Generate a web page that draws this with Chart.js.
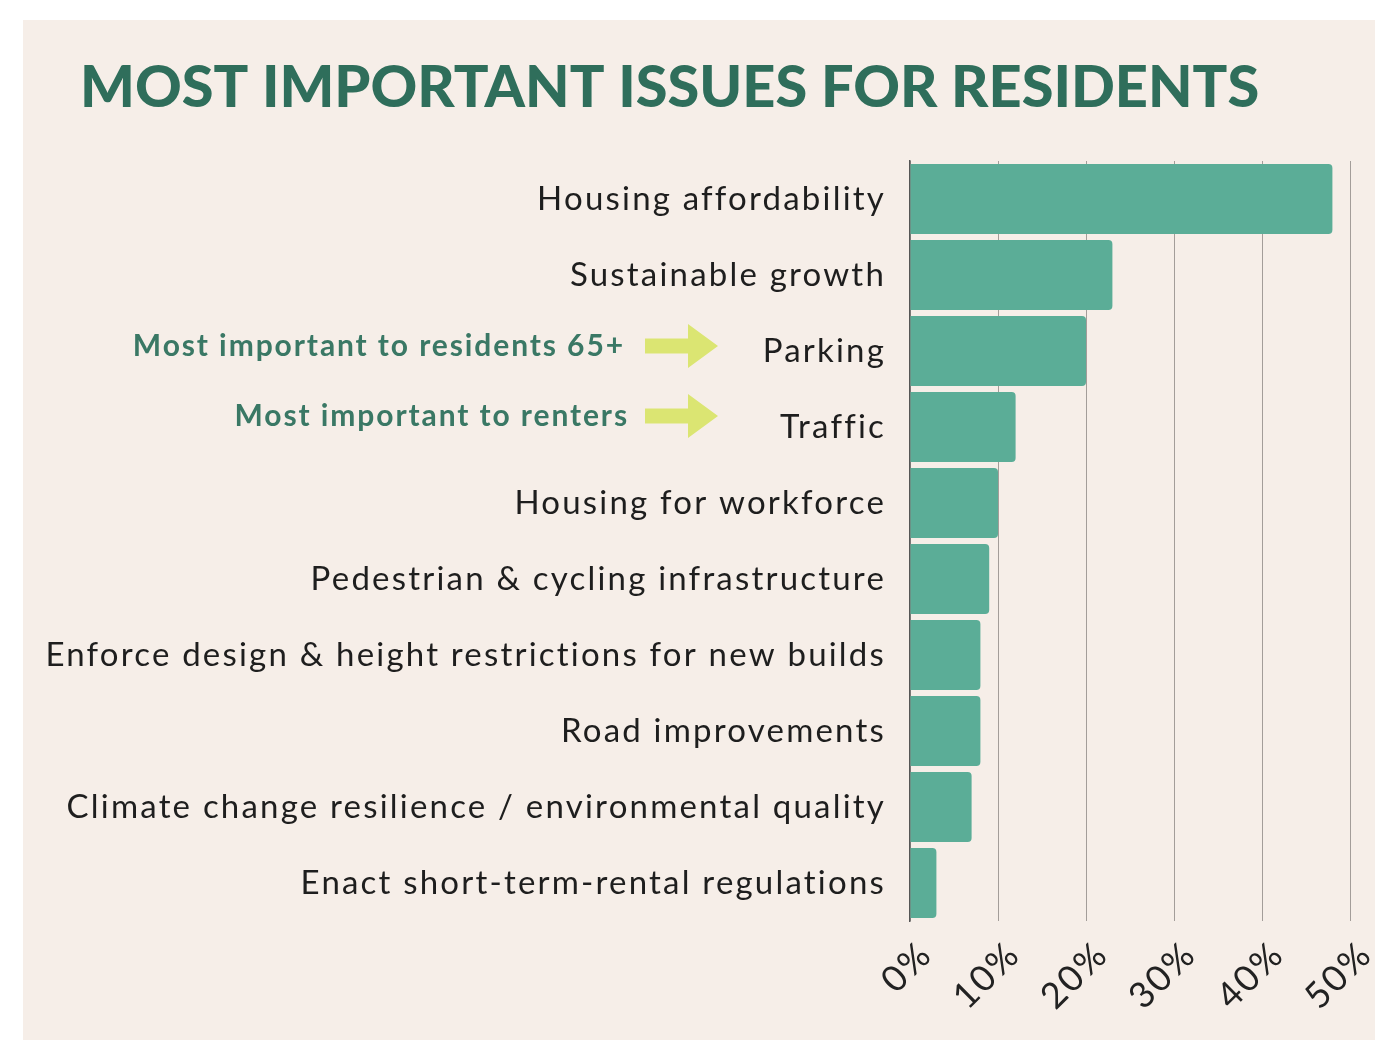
<!DOCTYPE html>
<html>
<head>
<meta charset="utf-8">
<title>Most important issues for residents</title>
<script src="https://cdn.jsdelivr.net/npm/chart.js@4.4.1/dist/chart.umd.min.js"></script>
<style>
  html, body { margin: 0; padding: 0; background: #ffffff; overflow: hidden; }
  #panel { position: absolute; left: 23px; top: 20px; width: 1352px; height: 1020px; background: #f6eee8; }
  #wrap { position: absolute; left: 0; top: 0; width: 1375px; height: 1040px; }
</style>
</head>
<body>
<div id="panel"></div>
<div id="wrap"><canvas id="issuesChart" width="1375" height="1040"></canvas></div>
<script>
// survey answers, share of residents naming each issue (%)
const issues = [
  "Housing affordability",
  "Sustainable growth",
  "Parking",
  "Traffic",
  "Housing for workforce",
  "Pedestrian & cycling infrastructure",
  "Enforce design & height restrictions for new builds",
  "Road improvements",
  "Climate change resilience / environmental quality",
  "Enact short-term-rental regulations"
];
const shares = [48, 23, 20, 12, 10, 9, 8, 8, 7, 3];
const percentTicks = [0, 10, 20, 30, 40, 50];

const chartTitle = "MOST IMPORTANT ISSUES FOR RESIDENTS";

// side notes pointing at a category
const noteTexts = ["Most important to residents 65+", "Most important to renters"];
const noteTargets = ["Parking", "Traffic"];

const TEAL_DARK = "#2f6e5b";
const BAR_COLOR = "#5bad97";
const ARROW_COLOR = "#dbe572";

// the body text is set a little loose, like the printed version
const trackedText = {
  id: "trackedText",
  beforeDraw(chart) {
    chart.ctx.letterSpacing = "2.2px";
  }
};

// heading plus the bold notes and yellow arrows left of the labels
const headingAndNotes = {
  id: "headingAndNotes",
  afterDraw(chart, args, opts) {
    const ctx = chart.ctx;
    const yScale = chart.scales.y;
    ctx.save();

    ctx.letterSpacing = "0px";
    ctx.font = "900 57.7px Lato";
    ctx.fillStyle = TEAL_DARK;
    ctx.textAlign = "left";
    ctx.textBaseline = "alphabetic";
    ctx.fillText(chartTitle, 80, 107);

    noteTexts.forEach((text, i) => {
      const idx = issues.indexOf(noteTargets[i]);
      const cy = yScale.getPixelForValue(idx) + opts.dy[i];

      ctx.letterSpacing = "1.9px";
      ctx.font = "bold 30px Lato";
      ctx.fillStyle = "#3a7865";
      ctx.textAlign = "right";
      ctx.textBaseline = "middle";
      ctx.fillText(text, opts.textRight[i], cy);

      // arrow: shaft + head
      const x0 = opts.arrowLeft, xh = x0 + 43, x1 = x0 + 73;
      ctx.fillStyle = ARROW_COLOR;
      ctx.beginPath();
      ctx.moveTo(x0, cy - 7.5);
      ctx.lineTo(xh, cy - 7.5);
      ctx.lineTo(xh, cy - 22);
      ctx.lineTo(x1, cy);
      ctx.lineTo(xh, cy + 22);
      ctx.lineTo(xh, cy + 7.5);
      ctx.lineTo(x0, cy + 7.5);
      ctx.closePath();
      ctx.fill();
    });
    ctx.restore();
  }
};

function buildChart() {
  const ctx = document.getElementById("issuesChart").getContext("2d");

  new Chart(ctx, {
    type: "bar",
    data: {
      labels: issues,
      datasets: [{
        data: shares,
        backgroundColor: BAR_COLOR,
        borderWidth: 0,
        borderRadius: 4,
        barPercentage: 0.92,
        categoryPercentage: 1.0
      }]
    },
    options: {
      indexAxis: "y",
      responsive: false,
      animation: false,
      layout: {
        padding: { left: 0, right: 25, top: 161, bottom: 0 }
      },
      plugins: {
        legend: { display: false },
        tooltip: { enabled: false },
        title: { display: false },
        headingAndNotes: {
          textRight: [625, 629],
          arrowLeft: 645,
          dy: [-5, -11]
        }
      },
      scales: {
        x: {
          type: "linear",
          min: percentTicks[0],
          max: percentTicks[percentTicks.length - 1],
          afterBuildTicks: (scale) => {
            scale.ticks = percentTicks.map(v => ({ value: v }));
          },
          grid: { color: "#a39d99", lineWidth: 1, drawTicks: false },
          border: { display: false },
          ticks: {
            minRotation: 45,
            maxRotation: 45,
            padding: 12,
            labelOffset: 16,
            color: "#222222",
            font: { family: "Lato", size: 36 },
            callback: (v) => v + "%"
          },
          afterFit: (scale) => {
            scale.height = 119;
            scale.paddingLeft = 0;
            scale.paddingRight = 0;
          }
        },
        y: {
          grid: { display: false, drawTicks: false },
          border: { display: true, color: "#555555", width: 1.5 },
          ticks: {
            padding: 24,
            color: "#1e1e1e",
            font: { family: "Lato", size: 33 }
          },
          afterFit: (scale) => {
            scale.width = 910;
            scale.paddingTop = 0;
            scale.paddingBottom = 0;
          }
        }
      }
    },
    plugins: [trackedText, headingAndNotes]
  });
}

document.fonts.load("33px Lato").then(() => document.fonts.load("900 58px Lato")).then(buildChart, buildChart);
</script>
</body>
</html>
